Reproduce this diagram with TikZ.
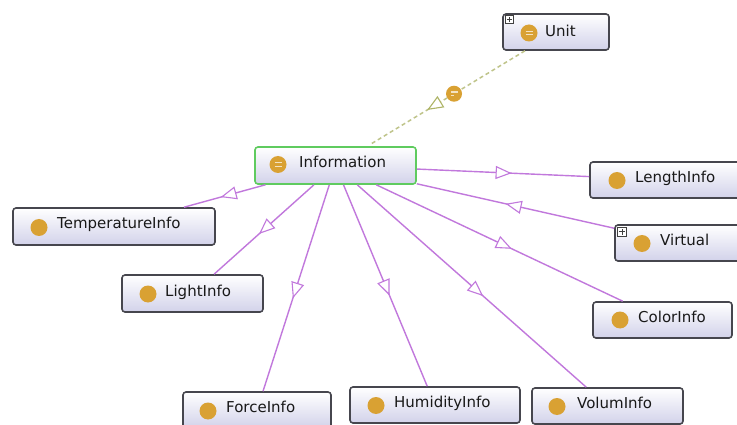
\documentclass[tikz,border=0pt]{standalone}
\usepackage{fontspec}
\setmainfont{DejaVu Sans}
\usetikzlibrary{arrows.meta,decorations.markings}

\definecolor{boxline}{HTML}{46464E}
\definecolor{boxlow}{HTML}{D2D2EA}
\definecolor{isa}{HTML}{C178DC}
\definecolor{eqline}{HTML}{BFC48A}
\definecolor{eqtip}{HTML}{AEB466}
\definecolor{classdot}{HTML}{D9A133}
\definecolor{focus}{HTML}{5FCB5F}

\begin{document}
\begin{tikzpicture}[x=1pt,y=-1pt,
  classbox/.style={draw=boxline, line width=1.6pt, rounded corners=3pt,
    top color=white, bottom color=boxlow, inner sep=0pt, minimum height=36pt},
  focusbox/.style={classbox, draw=focus},
  dot/.style={circle, fill=classdot, minimum size=17pt, inner sep=0pt, solid},
  eqdot/.style={dot, path picture={
    \draw[white!70!classdot, line width=1.3pt, solid]
      ([xshift=-3.5pt,yshift=1.8pt]path picture bounding box.center) -- ++(7pt,0pt)
      ([xshift=-3.5pt,yshift=-1.8pt]path picture bounding box.center) -- ++(7pt,0pt);}},
  lbl/.style={anchor=base west, inner sep=0pt, font=\fontsize{15}{18}\selectfont, text=black!90},
  expander/.style={draw=black!75, fill=white, line width=0.7pt, minimum size=8.5pt,
    inner sep=0pt, path picture={
    \draw[line width=1pt]
      ([xshift=-2.6pt]path picture bounding box.center) -- ([xshift=2.6pt]path picture bounding box.center)
      ([yshift=-2.6pt]path picture bounding box.center) -- ([yshift=2.6pt]path picture bounding box.center);}},
  subclass/.style={draw=isa, line width=1.4pt, postaction={decorate},
    decoration={markings, mark=at position 0.55 with
      {\arrow{Triangle[length=16pt,width=13pt,fill=white,line width=1.1pt]}}}},
  eqlink/.style={draw=eqline, line width=1.5pt, dash pattern=on 4pt off 3pt,
    shorten >=4pt, postaction={decorate},
    decoration={markings, mark=at position 0.62 with
      {\arrow[eqtip, solid]{Triangle[length=16pt,width=13pt,fill=white,line width=1.1pt]}}}}
]
\useasboundingbox (0,0) rectangle (737,425);
\clip (0,0) rectangle (737,425);
\fill[white] (0,0) rectangle (737,425);

% class boxes
\node[classbox, minimum width=106pt] (unit) at (556,32) {};
\node[focusbox, minimum width=161pt, minimum height=37pt] (info) at (335.5,165.5) {};
\node[classbox, minimum width=202pt, minimum height=37pt] (temp) at (114,226.5) {};
\node[classbox, minimum width=141pt, minimum height=37pt] (light) at (192.5,293.5) {};
\node[classbox, minimum width=148pt] (force) at (257,410) {};
\node[classbox, minimum width=170pt] (humid) at (435,405) {};
\node[classbox, minimum width=151pt] (volum) at (607.5,406) {};
\node[classbox, minimum width=139pt] (color) at (662.5,320) {};
\node[classbox, minimum width=155pt] (length) at (667.5,180) {};
\node[classbox, minimum width=130pt] (virtual) at (680,243) {};

% expand markers
\node[expander] (unit-x) at (509.5,19.5) {};
\node[expander] (virtual-x) at (622,232) {};

% class icons
\node[eqdot] (unit-i) at (529,33) {};
\node[eqdot] (info-i) at (278,164.5) {};
\node[dot] (temp-i) at (39,227.5) {};
\node[dot] (light-i) at (148,294) {};
\node[dot] (force-i) at (208,411) {};
\node[dot] (humid-i) at (376,405.5) {};
\node[dot] (volum-i) at (557,406.5) {};
\node[dot] (color-i) at (620,320) {};
\node[dot] (length-i) at (617,180.5) {};
\node[dot] (virtual-i) at (642,243.5) {};

% class names
\node[lbl] (unit-t) at (545,37) {Unit};
\node[lbl] (info-t) at (299,168) {Information};
\node[lbl] (temp-t) at (57,229) {TemperatureInfo};
\node[lbl] (light-t) at (165,296) {LightInfo};
\node[lbl] (force-t) at (226,412) {ForceInfo};
\node[lbl] (humid-t) at (394,407.5) {HumidityInfo};
\node[lbl] (volum-t) at (577,408.5) {VolumInfo};
\node[lbl] (color-t) at (638,322.5) {ColorInfo};
\node[lbl] (length-t) at (635,182.5) {LengthInfo};
\node[lbl] (virtual-t) at (660,245.5) {Virtual};

% subclass links
\draw[subclass] (info) -- (temp);
\draw[subclass] (info) -- (light);
\draw[subclass] (info) -- (force);
\draw[subclass] (info) -- (humid);
\draw[subclass] (info) -- (volum);
\draw[subclass] (info) -- (color);
\draw[subclass] (info) -- (length);
\draw[subclass] (virtual) -- (info);

% equivalence link
\draw[eqlink] (unit) -- node[eqdot, pos=0.45, minimum size=16pt] (unit-eq) {} (info);
\end{tikzpicture}
\end{document}
